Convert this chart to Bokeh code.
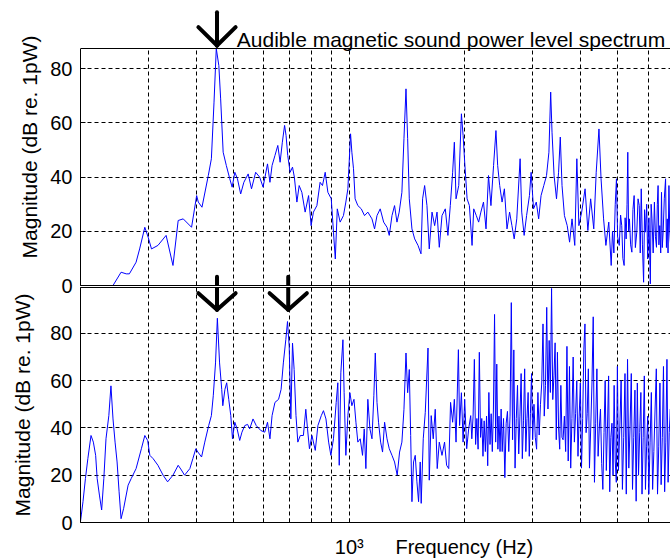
from bokeh.plotting import figure
from bokeh.layouts import column
from bokeh.models import Range1d, FixedTicker, Arrow, Label, LogAxis, Span, Title
from bokeh.embed import file_html
from bokeh.resources import INLINE

FONT = "Liberation Sans"

# ---------------- data ----------------
top_freq = [200, 243, 255, 263, 268, 279, 285, 294, 300, 306, 318, 334, 348, 359, 370, 389, 401, 405, 414, 430,
            438, 445, 451, 458, 463, 470, 479, 489, 496, 504, 512, 522, 532, 546, 557, 571, 585, 597, 613, 622,
            630, 641, 652, 661, 670, 679, 685, 692, 702, 712, 720, 731, 741, 753, 768, 784, 796, 807, 824, 840,
            852, 866, 880, 898, 910, 920, 931, 947, 966, 980, 992, 1008, 1016, 1026, 1036, 1053, 1075, 1096, 1118, 1146,
            1164, 1181, 1204, 1229, 1254, 1271, 1292, 1312, 1331, 1349, 1371, 1388, 1405, 1419, 1433, 1456, 1480, 1510, 1537, 1552,
            1571, 1593, 1615, 1642, 1668, 1692, 1715, 1743, 1778, 1806, 1832, 1858, 1877, 1896, 1927, 1958, 1978, 1997, 2026, 2054,
            2087, 2108, 2141, 2171, 2200, 2235, 2269, 2303, 2337, 2374, 2408, 2433, 2463, 2498, 2533, 2573, 2613, 2650, 2686, 2728,
            2783, 2810, 2851, 2893, 2943, 2973, 3016, 3066, 3110, 3155, 3207, 3260, 3307, 3342, 3369, 3411, 3461, 3504, 3540, 3577,
            3629, 3690, 3743, 3798, 3861, 3909, 3957, 4024, 4107, 4176, 4246, 4326, 4390, 4463, 4519, 4588, 4652, 4733, 4802, 4840,
            4880, 4920, 4956, 4990, 5040, 5080, 5115, 5150, 5189, 5220, 5252, 5280, 5304, 5330, 5357, 5395, 5435, 5470, 5510, 5550,
            5598, 5640, 5681, 5715, 5749, 5790, 5831, 5865, 5902, 5940, 5975, 6020, 6070, 6100, 6131, 6175, 6221, 6260, 6298, 6330,
            6359, 6390, 6425, 6460, 6491, 6520, 6555, 6600, 6651, 6685, 6718, 6750, 6786, 6820, 6855, 6900, 6938]
top_db = [0, 0, 4.9, 4.3, 4.3, 8.6, 13.5, 21.5, 17.8, 13.5, 14.8, 18.5, 7.4, 24.0, 24.6, 21.5, 33.2, 30.8, 28.9, 40.6,
          46.8, 67.7, 87.5, 81.2, 68.9, 49.2, 44.3, 39.4, 36.3, 41.8, 39.4, 33.8, 38.1, 41.2, 35.7, 41.8, 40.0, 36.3, 44.9, 38.1,
          44.3, 48.0, 51.7, 45.5, 52.9, 59.1, 55.4, 48.0, 41.8, 43.7, 40.0, 30.8, 36.9, 34.4, 27.1, 33.2, 22.1, 27.1, 29.5, 38.1,
          36.9, 41.8, 34.4, 32.0, 19.7, 9.8, 28.3, 23.4, 25.8, 30.8, 35.7, 56.0, 49.2, 43.1, 32.0, 29.5, 28.3, 25.8, 27.1, 24.6,
          20.9, 25.8, 28.3, 23.4, 21.5, 18.5, 25.8, 29.5, 23.4, 27.1, 34.4, 54.2, 72.6, 54.2, 32.0, 20.9, 17.2, 14.8, 11.7, 32.0,
          36.9, 29.5, 13.5, 27.1, 22.1, 27.1, 14.1, 25.8, 28.3, 18.5, 29.5, 41.8, 52.9, 32.0, 36.9, 63.4, 55.4, 45.5, 32.0, 29.5,
          14.8, 28.3, 25.8, 23.4, 27.1, 30.8, 20.9, 40.6, 29.5, 44.3, 57.2, 44.3, 36.9, 30.8, 35.7, 20.9, 27.1, 22.1, 17.2, 24.6,
          46.8, 27.1, 18.5, 25.8, 33.2, 41.8, 28.3, 30.8, 24.6, 33.2, 36.9, 40.6, 49.2, 71.4, 56.6, 40.6, 32.0, 41.8, 54.8, 36.9,
          25.8, 22.1, 16.0, 24.6, 14.8, 46.8, 22.1, 27.1, 35.7, 20.3, 32.0, 20.9, 41.8, 57.8, 39.4, 24.6, 14.8, 23.4, 7.4, 20.0,
          12.0, 30.0, 39.4, 18.0, 14.8, 26.0, 22.1, 10.0, 7.4, 25.0, 17.2, 30.0, 49.2, 20.0, 24.6, 15.0, 12.3, 28.0, 33.2, 14.0,
          19.7, 32.0, 29.5, 12.0, 35.7, 15.0, 1.2, 28.0, 19.7, 30.0, 9.8, 25.0, 0.6, 30.0, 24.6, 12.0, 30.8, 18.0, 14.1, 30.0,
          36.9, 15.0, 22.1, 12.0, 34.4, 14.0, 19.7, 32.0, 39.4, 14.0, 24.6, 12.0, 36.9, 20.0, 14.8, 32.0, 29.5]

bot_freq = [200, 201, 203, 206, 209, 213, 216, 219, 221, 224, 227, 230, 233, 237, 240, 243, 246, 249, 252, 255,
            259, 266, 271, 279, 288, 294, 299, 303, 309, 318, 328, 337, 348, 359, 366, 373, 385, 392, 399, 404,
            413, 421, 431, 438, 443, 449, 454, 460, 466, 469, 475, 480, 486, 492, 497, 504, 511, 519, 526, 535,
            544, 551, 562, 573, 589, 603, 613, 622, 630, 641, 655, 665, 674, 684, 691, 698, 705, 712, 719, 727,
            735, 746, 760, 771, 779, 788, 800, 816, 829, 846, 857, 870, 884, 896, 910, 925, 934, 942, 951, 963,
            970, 980, 992, 1004, 1016, 1029, 1041, 1053, 1068, 1083, 1094, 1105, 1118, 1132, 1146, 1159, 1169, 1181, 1192, 1207,
            1221, 1236, 1254, 1271, 1292, 1312, 1333, 1352, 1371, 1388, 1405, 1419, 1433, 1445, 1456, 1470, 1485, 1500, 1515, 1530,
            1539, 1558, 1577, 1603, 1615, 1634, 1654, 1674, 1694, 1715, 1743, 1770, 1792, 1815, 1835, 1858, 1877, 1896, 1923, 1937,
            1958, 1978, 1997, 2021, 2045, 2070, 2084,
            2100, 2116, 2132, 2148, 2164, 2180, 2196, 2212, 2228, 2244, 2260, 2276, 2292, 2308, 2324, 2340, 2356, 2372, 2388, 2404,
            2420, 2436, 2452, 2468, 2484,
            2500, 2520, 2540, 2560, 2580, 2600, 2620, 2640, 2660, 2680, 2700, 2720, 2740, 2760, 2780, 2800, 2820, 2840, 2860, 2880,
            2900, 2920, 2940, 2960, 2980,
            3000, 3024, 3048, 3072, 3096, 3120, 3144, 3168, 3192, 3216, 3240, 3264, 3288, 3312, 3336, 3360, 3384, 3408, 3432, 3456,
            3480, 3504, 3528, 3552, 3576,
            3600, 3628, 3656, 3684, 3712, 3740, 3768, 3796, 3824, 3852, 3880, 3908, 3936, 3964, 3992, 4020, 4048, 4076, 4104, 4132,
            4160, 4188,
            4216, 4248, 4280, 4312, 4344, 4376, 4408, 4440, 4472, 4504, 4536, 4568, 4600, 4632, 4664, 4696, 4728, 4760, 4792, 4824,
            4856, 4888, 4920, 4952, 4984,
            5016, 5056, 5096, 5136, 5176, 5216, 5256, 5296, 5336, 5376, 5416, 5456, 5496, 5536, 5576, 5616, 5656, 5696, 5736, 5776,
            5816, 5856, 5896, 5936, 5976,
            6016, 6062, 6108, 6154, 6200, 6246, 6292, 6338, 6384, 6430, 6476, 6522, 6568, 6614, 6660, 6706, 6752, 6798, 6844, 6890,
            6920]
bot_db = [0.5, 3.2, 8.8, 18.6, 27.0, 36.8, 34.0, 28.4, 18.6, 11.6, 5.3, 18.6, 35.4, 45.2, 57.8, 43.8, 34.0, 25.6, 13.0, 1.6,
          6.0, 15.8, 18.6, 22.8, 31.2, 36.8, 34.7, 28.4, 27.0, 24.2, 20.0, 17.2, 20.0, 24.2, 22.2, 20.0, 22.8, 27.0, 31.2, 29.8,
          27.7, 34.0, 41.0, 45.2, 53.6, 67.5, 86.4, 67.5, 56.3, 49.4, 56.3, 59.1, 52.1, 45.2, 35.4, 42.4, 39.6, 34.7, 38.2, 41.0,
          41.5, 39.6, 43.8, 41.0, 38.9, 38.2, 42.4, 35.4, 45.2, 50.8, 52.1, 56.3, 67.5, 77.3, 85.0, 74.5, 43.8, 75.9, 64.7, 45.2,
          34.0, 36.8, 36.8, 47.9, 39.6, 31.2, 36.8, 30.5, 41.0, 45.2, 47.3, 43.8, 34.0, 28.4, 35.4, 50.8, 59.1, 24.2, 63.3, 77.3,
          54.9, 28.4, 45.2, 54.9, 49.4, 52.1, 42.4, 34.0, 35.4, 28.4, 39.6, 22.8, 52.1, 39.6, 35.4, 53.6, 71.7, 50.8, 42.4, 34.0,
          29.8, 42.4, 35.4, 31.2, 28.4, 25.6, 20.0, 29.8, 34.0, 47.9, 71.7, 54.9, 64.7, 36.8, 8.8, 25.6, 28.4, 17.2, 8.8, 25.6,
          8.1, 35.4, 46.6, 73.8, 17.9, 45.2, 35.4, 47.9, 22.8, 34.0, 28.4, 34.0, 24.2, 22.8, 50.8, 42.4, 52.1, 34.0, 73.1, 41.0,
          54.9, 34.0, 52.1, 31.2, 39.6, 45.2, 35.4,
          45, 69, 33, 44, 31, 72, 36, 44, 28, 43, 30, 45, 24, 55, 33, 46, 30, 48, 88, 34,
          67, 31, 45, 30, 48,
          30, 44, 19, 42, 47, 30, 45, 93, 35, 73, 23, 44, 58, 29, 45, 63, 27, 43, 65, 30,
          44, 55, 28, 46, 63,
          35, 50, 36, 31, 55, 37, 50, 59, 84, 45, 58, 91, 48, 77, 55, 99, 52, 62, 76, 35,
          72, 40, 31, 58, 36,
          35, 45, 30, 74.5, 26, 66, 23, 44, 70, 34, 46, 60, 28, 45, 59, 23, 44, 73, 84, 38,
          46, 65,
          23, 40, 59, 87, 17, 42, 65, 28, 40, 48, 25, 14, 38, 60, 22, 40, 62, 13, 36, 42,
          20, 58, 26, 17, 66,
          22, 40, 60, 14, 36, 63, 12, 69, 23, 40, 63, 14, 36, 56, 9, 59, 20, 38, 55, 12,
          36, 62, 14, 32, 45,
          12, 34, 55, 14, 30, 48, 65, 12, 32, 59, 16, 36, 66, 13, 34, 69, 17, 38, 48, 22,
          72]

y_ticks = [0, 20, 40, 60, 80]
x_major = [1000]
x_minor = [200, 300, 400, 500, 600, 700, 800, 900, 1000, 2000, 3000, 4000, 5000, 6000]
x_grid = [200, 300, 400, 500, 600, 700, 800, 900, 1000, 2000, 3000, 4000, 5000, 6000]
x_tick_text = {1000: "10\u00b3"}
y_label = "Magnitude (dB re. 1pW)"
x_label = "Frequency (Hz)"
x_label_at = 1993
title_text = "Audible magnetic sound power level spectrum"
top_arrow_f = [453]
bot_arrow_f = [453, 694]

X_MIN, X_MAX = 200, 6850
TOP_MAX, BOT_MAX = 87.5, 99.4
OVERLAP = 12


def style_axis(ax, show_labels):
    ax.axis_line_color = "black"
    ax.axis_line_width = 1
    ax.major_tick_in = 5
    ax.major_tick_out = 0
    ax.minor_tick_in = 4
    ax.minor_tick_out = 0
    ax.major_tick_line_color = "black"
    ax.minor_tick_line_color = "black"
    ax.major_label_text_font = FONT
    ax.major_label_text_color = "black"
    if not show_labels:
        ax.major_label_overrides = {1000: ""}
        ax.major_label_text_font_size = "1px"
        ax.major_label_text_alpha = 0
        ax.major_label_standoff = 0


def make_fig(height, y_end, b_top, b_bottom):
    p = figure(width=670, height=height, x_axis_type="log",
               x_range=Range1d(X_MIN, X_MAX), y_range=Range1d(0, y_end),
               output_backend="svg", toolbar_location=None,
               min_border_left=80, min_border_right=0,
               min_border_top=b_top, min_border_bottom=b_bottom)
    p.outline_line_color = None
    p.background_fill_color = "white"
    p.border_fill_color = "white"

    ay = p.yaxis[0]
    ay.ticker = FixedTicker(ticks=y_ticks)
    style_axis(ay, True)
    ay.major_label_text_font_size = "20px"
    ay.major_label_standoff = 8
    ay.minor_tick_line_color = None

    p.xgrid.ticker = FixedTicker(ticks=x_grid)
    p.ygrid.ticker = FixedTicker(ticks=y_ticks)
    for g in (p.xgrid[0], p.ygrid[0]):
        g.grid_line_color = "black"
        g.grid_line_width = 1
        g.grid_line_dash = "4 3"
        g.grid_line_alpha = 1.0
    return p


def seg(p, x0, y0, x1, y1, w=4):
    p.add_layout(Arrow(x_start=x0, y_start=y0, x_end=x1, y_end=y1, start=None, end=None,
                       line_color="black", line_width=w, line_cap="round", line_join="round"))


def down_arrow(p, f, y_top, y_tip, y_wing, wing_ratio=1.118):
    seg(p, f, y_top, f, y_tip)
    seg(p, f / wing_ratio, y_wing, f, y_tip)
    seg(p, f * wing_ratio, y_wing, f, y_tip)


# ---------------- top panel (frame extends up so the arrow and title can sit above the box) ----------------
TOP_EXT = TOP_MAX * 277 / 237
top = make_fig(286 + OVERLAP, TOP_EXT, 8, 1 + OVERLAP)
top.yaxis[0].bounds = (0, TOP_MAX)
try:
    top.xgrid[0].cross_bounds = (0, TOP_MAX)
except Exception:
    top.xgrid[0].visible = False
    top.segment(x0=x_grid, y0=[0] * len(x_grid), x1=x_grid, y1=[TOP_MAX] * len(x_grid),
                line_color="black", line_width=1, line_dash="4 3", level="underlay")
ax = top.xaxis[0]
ax.ticker = FixedTicker(ticks=x_major, minor_ticks=x_minor)
style_axis(ax, False)
top.add_layout(Span(location=TOP_MAX, dimension="width", line_color="black", line_width=1))
top.add_layout(Title(text=y_label, align="center", offset=-24, standoff=13, text_font=FONT,
                     text_font_size="21px", text_font_style="normal", text_color="black"), "left")

top.line(top_freq, top_db, line_color="#0000ff", line_width=1)
for f in top_arrow_f:
    down_arrow(top, f, 100.9, 88.6, 95.4)
for f in bot_arrow_f:
    seg(top, f, 0, f, 3.2)
top.add_layout(Label(x=510, y=91.0, text=title_text, text_font=FONT, text_font_size="21px",
                     text_color="black", text_baseline="alphabetic", text_align="left"))

# ---------------- bottom panel ----------------
bot = make_fig(274, BOT_MAX, 1, 36)
bot.border_fill_color = None
ay = bot.yaxis[0]
ay.axis_label = y_label
ay.axis_label_text_font = FONT
ay.axis_label_text_font_size = "21px"
ay.axis_label_text_font_style = "normal"
ay.axis_label_text_color = "black"
ay.axis_label_standoff = 13

ax = bot.xaxis[0]
ax.ticker = FixedTicker(ticks=x_major + [x_label_at], minor_ticks=x_minor)
style_axis(ax, True)
ax.major_tick_line_color = None
labels = dict(x_tick_text)
labels[x_label_at] = x_label
ax.major_label_overrides = labels
ax.major_label_text_font_size = "20px"
ax.major_label_standoff = 13

top_ax = LogAxis(ticker=FixedTicker(ticks=x_major, minor_ticks=x_minor))
style_axis(top_ax, False)
bot.add_layout(top_ax, "above")

bot.line(bot_freq, bot_db, line_color="#0000ff", line_width=1)
for f in bot_arrow_f:
    down_arrow(bot, f, 104, 90.0, 97.0)

try:
    bot.margin = (-OVERLAP, 0, 0, 0)
except Exception:
    top.height = 286
    top.min_border_bottom = 1

layout = column(top, bot, spacing=0)
open("out.html", "w").write(file_html(layout, INLINE))
